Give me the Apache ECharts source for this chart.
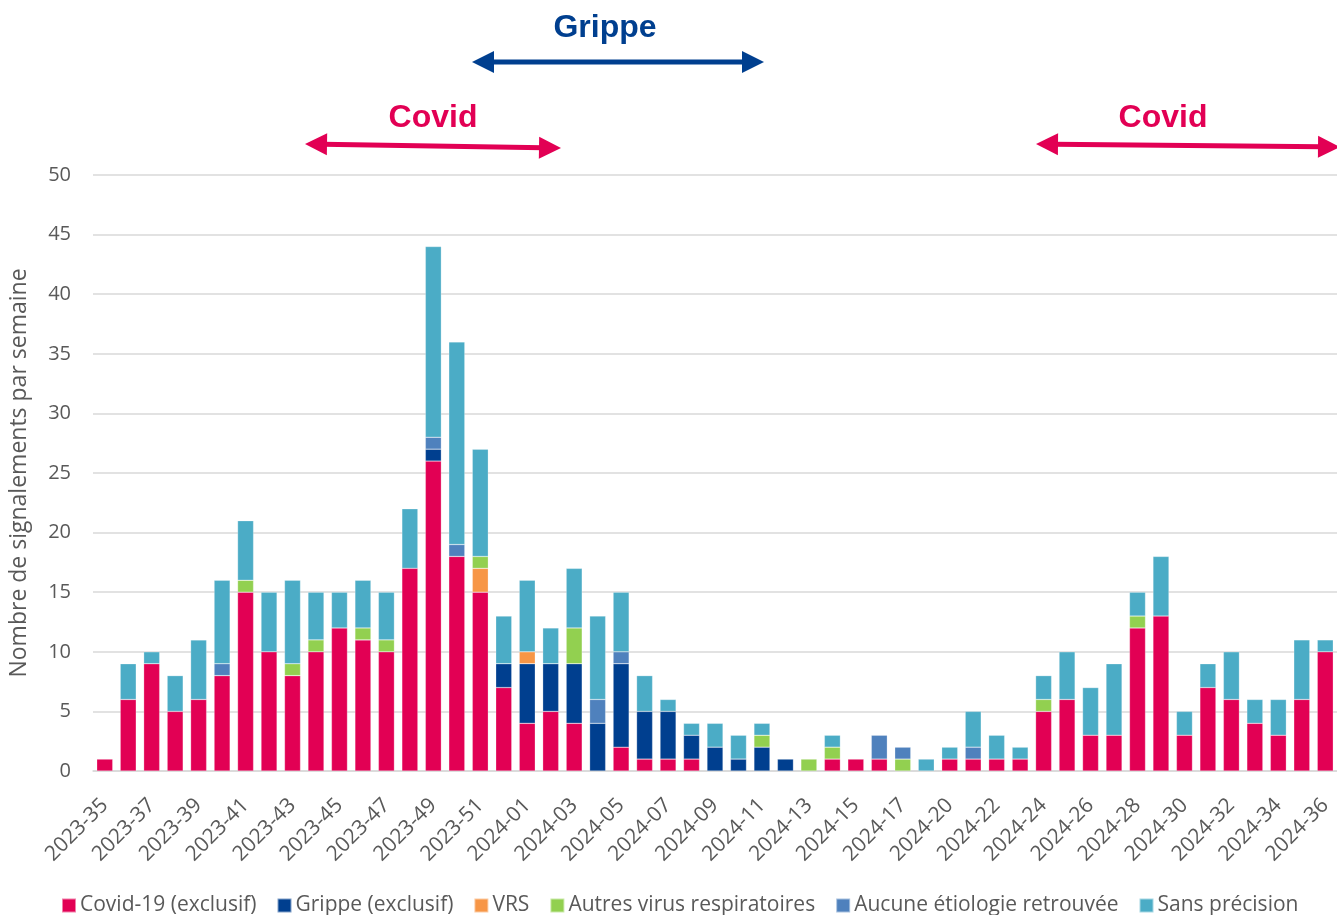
<!DOCTYPE html>
<html><head><meta charset="utf-8">
<script src="https://cdn.jsdelivr.net/npm/echarts@6/dist/echarts.min.js"></script>
<style>html,body{margin:0;padding:0;background:#fff}#c{width:1337px;height:915px}</style>
</head><body><div id="c"></div>
<script>
const weeks = ["2023-35","2023-36","2023-37","2023-38","2023-39","2023-40","2023-41","2023-42","2023-43","2023-44","2023-45","2023-46","2023-47","2023-48","2023-49","2023-50","2023-51","2023-52","2024-01","2024-02","2024-03","2024-04","2024-05","2024-06","2024-07","2024-08","2024-09","2024-10","2024-11","2024-12","2024-13","2024-14","2024-15","2024-16","2024-17","2024-18","2024-20","2024-21","2024-22","2024-23","2024-24","2024-25","2024-26","2024-27","2024-28","2024-29","2024-30","2024-31","2024-32","2024-33","2024-34","2024-35","2024-36"];
const covid   = [1,6,9,5,6,8,15,10,8,10,12,11,10,17,26,18,15,7,4,5,4,0,2,1,1,1,0,0,0,0,0,1,1,1,0,0,1,1,1,1,5,6,3,3,12,13,3,7,6,4,3,6,10];
const grippe  = [0,0,0,0,0,0,0,0,0,0,0,0,0,0,1,0,0,2,5,4,5,4,7,4,4,2,2,1,2,1,0,0,0,0,0,0,0,0,0,0,0,0,0,0,0,0,0,0,0,0,0,0,0];
const vrs     = [0,0,0,0,0,0,0,0,0,0,0,0,0,0,0,0,2,0,1,0,0,0,0,0,0,0,0,0,0,0,0,0,0,0,0,0,0,0,0,0,0,0,0,0,0,0,0,0,0,0,0,0,0];
const autres  = [0,0,0,0,0,0,1,0,1,1,0,1,1,0,0,0,1,0,0,0,3,0,0,0,0,0,0,0,1,0,1,1,0,0,1,0,0,0,0,0,1,0,0,0,1,0,0,0,0,0,0,0,0];
const aucune  = [0,0,0,0,0,1,0,0,0,0,0,0,0,0,1,1,0,0,0,0,0,2,1,0,0,0,0,0,0,0,0,0,0,2,1,0,0,1,0,0,0,0,0,0,0,0,0,0,0,0,0,0,0];
const sans    = [0,3,1,3,5,7,5,5,7,4,3,4,4,5,16,17,9,4,6,3,5,7,5,3,1,1,2,2,1,0,0,1,0,0,0,1,1,3,2,1,2,4,4,6,2,5,2,2,4,2,3,5,1];
const seriesNames = ["Covid-19 (exclusif)","Grippe (exclusif)","VRS","Autres virus respiratoires","Aucune étiologie retrouvée","Sans précision"];
const yTicks = [0,5,10,15,20,25,30,35,40,45,50];

const colors = ["#E20054","#003F8F","#F79646","#92D050","#4F81BD","#4BACC6"];
const dataSets = [covid,grippe,vrs,autres,aucune,sans];
const FONT = "Open Sans";
const chart = echarts.init(document.getElementById('c'));

function arrow(x1,y1,x2,y2,color){
  const hl=22, hw=11;
  const ang=Math.atan2(y2-y1,x2-x1), c=Math.cos(ang), s=Math.sin(ang);
  const head=(x,y,dir)=>{
    const bx=x-dir*hl*c, by=y-dir*hl*s;
    return [[x,y],[bx-hw*s,by+hw*c],[bx+hw*s,by-hw*c]];
  };
  return [
    {type:'line',shape:{x1:x1+hl*c*0.8,y1:y1+hl*s*0.8,x2:x2-hl*c*0.8,y2:y2-hl*s*0.8},style:{stroke:color,lineWidth:5}},
    {type:'polygon',shape:{points:head(x2,y2,1)},style:{fill:color}},
    {type:'polygon',shape:{points:head(x1,y1,-1)},style:{fill:color}}
  ];
}

const option = {
  backgroundColor:'#fff',
  animation:false,
  textStyle:{fontFamily:FONT},
  grid:{left:92,right:-4,top:175,bottom:144,containLabel:false},
  legend:{
    bottom:-6,left:56,itemWidth:14,itemHeight:14,itemGap:20,
    icon:'rect',
    textStyle:{fontFamily:FONT,fontSize:21,color:'#595959',padding:[0,0,0,-1]},
    data:seriesNames
  },
  xAxis:{
    type:'category',data:weeks,
    axisTick:{show:false},
    axisLine:{lineStyle:{color:'#D9D9D9',width:1.5}},
    axisLabel:{rotate:45,interval:1,fontFamily:FONT,fontSize:21,color:'#595959',margin:31}
  },
  yAxis:{
    type:'value',min:yTicks[0],max:yTicks[yTicks.length-1],interval:5,
    name:'Nombre de signalements par semaine',nameLocation:'middle',nameGap:62,
    nameTextStyle:{fontFamily:FONT,fontSize:23,color:'#595959'},
    axisLine:{show:false},axisTick:{show:false},
    axisLabel:{fontFamily:FONT,fontSize:20,color:'#595959',margin:22},
    splitLine:{lineStyle:{color:'#D9D9D9',width:1.5}}
  },
  series: seriesNames.map((n,i)=>({
    name:n,type:'bar',stack:'t',barWidth:16,
    itemStyle:{color:colors[i],borderColor:'rgba(255,255,255,0.5)',borderWidth:0.5},
    data:dataSets[i].map(v=>v===0?null:v)
  })),
  graphic:[
    {type:'text',x:605,y:28,style:{text:'Grippe',fill:'#003F8F',font:'bold 32px "Liberation Sans"',align:'center',verticalAlign:'middle'}},
    ...arrow(472,62,764,62,'#003F8F'),
    {type:'text',x:433,y:118,style:{text:'Covid',fill:'#E20054',font:'bold 32px "Liberation Sans"',align:'center',verticalAlign:'middle'}},
    ...arrow(305,144,561,148,'#E20054'),
    {type:'text',x:1163,y:118,style:{text:'Covid',fill:'#E20054',font:'bold 32px "Liberation Sans"',align:'center',verticalAlign:'middle'}},
    ...arrow(1036,144,1340,147,'#E20054')
  ]
};
chart.setOption(option);
</script></body></html>
